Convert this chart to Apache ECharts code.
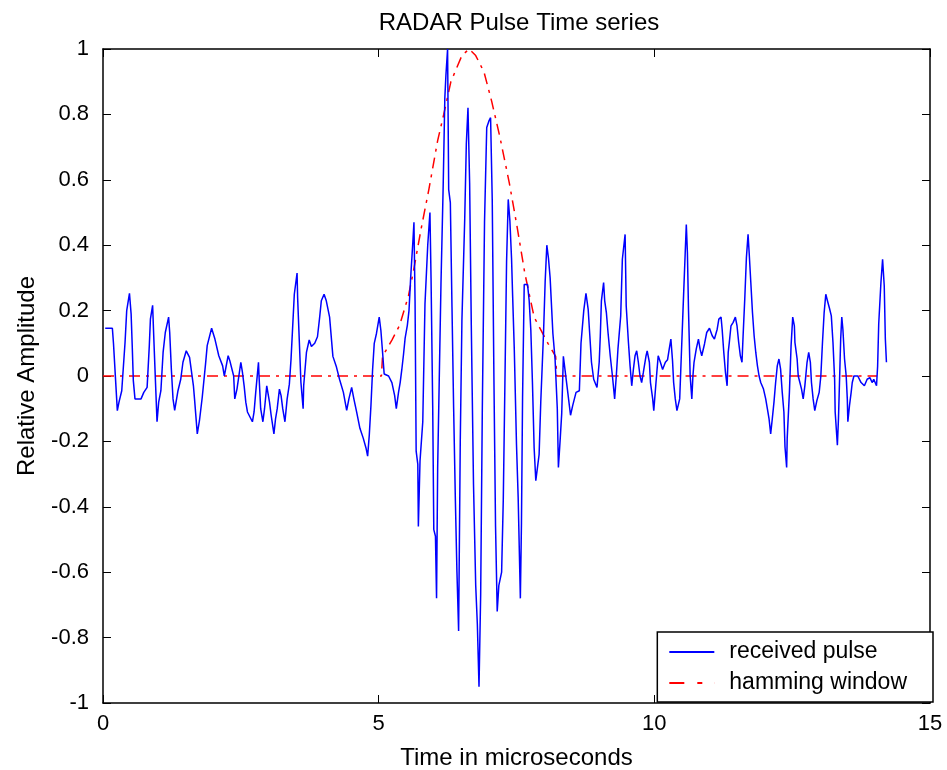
<!DOCTYPE html>
<html>
<head>
<meta charset="utf-8">
<script src="https://cdn.jsdelivr.net/npm/echarts@6/dist/echarts.min.js"></script>
<style>
html,body{margin:0;padding:0;background:#fff;}
#chart{width:947px;height:770px;}
</style>
</head>
<body>
<div id="chart"></div>
<script>
// ---- data ----
const titleText = 'RADAR Pulse Time series';
const xAxisName = 'Time in microseconds';
const yAxisName = 'Relative Amplitude';
const seriesNames = ['received pulse', 'hamming window'];

const pulseTime = [
0.04,0.17,0.19,0.26,0.29,0.34,0.40,0.43,0.48,0.51,0.53,0.55,0.58,0.69,0.74,0.80,0.84,0.86,0.90,0.92,
0.95,0.98,1.01,1.05,1.09,1.13,1.19,1.21,1.24,1.27,1.30,1.36,1.41,1.45,1.51,1.57,1.64,1.66,1.71,1.75,
1.80,1.86,1.89,1.97,2.03,2.10,2.17,2.20,2.27,2.30,2.37,2.39,2.43,2.50,2.53,2.56,2.59,2.62,2.68,2.71,
2.74,2.77,2.82,2.83,2.86,2.90,2.93,2.97,3.02,3.05,3.10,3.13,3.16,3.20,3.23,3.26,3.30,3.34,3.38,3.41,
3.44,3.47,3.52,3.53,3.56,3.59,3.63,3.64,3.69,3.74,3.78,3.84,3.89,3.93,3.96,4.01,4.05,4.11,4.17,4.23,
4.29,4.36,4.42,4.46,4.51,4.55,4.60,4.66,4.72,4.77,4.80,4.83,4.86,4.89,4.92,4.96,5.01,5.04,5.07,5.10,
5.18,5.24,5.29,5.32,5.36,5.39,5.42,5.45,5.48,5.52,5.55,5.58,5.62,5.64,5.66,5.68,5.71,5.72,5.75,5.80,
5.84,5.89,5.93,5.95,5.98,6.00,6.03,6.05,6.07,6.10,6.13,6.17,6.20,6.22,6.25,6.27,6.30,6.33,6.36,6.39,
6.42,6.45,6.48,6.51,6.56,6.59,6.62,6.65,6.68,6.72,6.76,6.79,6.82,6.85,6.88,6.92,6.96,7.00,7.03,7.06,
7.09,7.12,7.15,7.18,7.23,7.26,7.29,7.32,7.35,7.38,7.41,7.43,7.46,7.50,7.53,7.57,7.59,7.61,7.64,7.70,
7.73,7.76,7.79,7.82,7.85,7.88,7.91,7.94,7.99,8.02,8.05,8.08,8.11,8.16,8.20,8.24,8.26,8.29,8.32,8.35,
8.39,8.43,8.48,8.52,8.58,8.64,8.67,8.72,8.76,8.80,8.83,8.86,8.90,8.96,9.00,9.02,9.04,9.08,9.10,9.13,
9.16,9.20,9.24,9.28,9.31,9.34,9.39,9.42,9.47,9.49,9.53,9.56,9.59,9.62,9.65,9.68,9.71,9.74,9.77,9.80,
9.85,9.87,9.91,9.93,9.97,9.99,10.03,10.07,10.11,10.15,10.20,10.24,10.27,10.30,10.33,10.35,10.38,10.41,10.46,10.48,
10.52,10.56,10.58,10.60,10.62,10.65,10.68,10.70,10.72,10.76,10.80,10.83,10.86,10.91,10.95,11.00,11.05,11.09,11.14,11.17,
11.21,11.23,11.26,11.29,11.32,11.34,11.36,11.39,11.43,11.47,11.50,11.53,11.56,11.59,11.61,11.64,11.67,11.70,11.72,11.75,
11.78,11.81,11.84,11.87,11.90,11.93,11.98,12.02,12.05,12.08,12.11,12.14,12.17,12.20,12.23,12.26,12.29,12.32,12.35,12.37,
12.40,12.41,12.45,12.48,12.51,12.54,12.55,12.59,12.61,12.64,12.67,12.70,12.73,12.77,12.80,12.83,12.85,12.88,12.91,12.95,
12.99,13.02,13.05,13.08,13.11,13.14,13.18,13.21,13.24,13.27,13.28,13.32,13.34,13.36,13.38,13.40,13.42,13.45,13.48,13.50,
13.51,13.54,13.57,13.59,13.62,13.69,13.75,13.81,13.86,13.91,13.95,13.98,14.03,14.05,14.07,14.11,14.14,14.17,14.19,14.21
];

const pulseAmp = [
0.146,0.146,0.10,-0.106,-0.08,-0.045,0.103,0.20,0.253,0.19,0.093,-0.014,-0.07,-0.07,-0.05,-0.035,0.093,0.174,0.216,0.123,
-0.01,-0.14,-0.08,-0.045,0.072,0.133,0.18,0.133,0.02,-0.07,-0.105,-0.045,-0.01,0.042,0.077,0.057,-0.03,-0.07,-0.177,-0.136,
-0.065,0.037,0.093,0.146,0.113,0.062,0.031,0.0,0.062,0.047,0.0,-0.07,-0.04,0.042,0.01,-0.03,-0.08,-0.11,-0.13,-0.14,
-0.11,-0.05,0.042,0.0,-0.10,-0.14,-0.10,-0.03,-0.08,-0.12,-0.177,-0.13,-0.10,-0.04,-0.06,-0.10,-0.14,-0.07,-0.025,0.05,
0.15,0.25,0.315,0.24,0.11,-0.02,-0.10,-0.03,0.072,0.11,0.09,0.10,0.12,0.18,0.23,0.25,0.23,0.18,0.06,0.03,
-0.01,-0.05,-0.105,-0.07,-0.035,-0.07,-0.11,-0.16,-0.19,-0.22,-0.245,-0.18,-0.09,0.02,0.10,0.13,0.18,0.14,0.074,0.006,
0.0,-0.02,-0.06,-0.10,-0.05,-0.02,0.02,0.065,0.116,0.155,0.20,0.30,0.41,0.47,0.23,-0.23,-0.27,-0.46,-0.26,-0.14,
0.22,0.40,0.50,0.30,-0.09,-0.47,-0.49,-0.68,-0.28,0.0,0.28,0.58,0.85,0.92,1.0,0.57,0.53,0.21,-0.10,-0.37,
-0.60,-0.78,-0.20,0.17,0.475,0.71,0.82,0.59,0.155,-0.33,-0.64,-0.76,-0.95,-0.67,-0.10,0.47,0.76,0.78,0.79,0.54,
0.0,-0.46,-0.72,-0.64,-0.60,-0.38,-0.02,0.35,0.54,0.475,0.36,0.245,0.08,-0.21,-0.37,-0.68,-0.45,-0.065,0.28,0.28,
0.23,0.14,-0.025,-0.22,-0.32,-0.28,-0.24,-0.08,0.13,0.29,0.40,0.36,0.30,0.13,0.05,-0.10,-0.28,-0.20,-0.115,0.06,
0.005,-0.05,-0.12,-0.09,-0.05,-0.045,0.10,0.20,0.253,0.204,0.123,0.042,-0.01,-0.035,0.042,0.123,0.23,0.286,0.23,0.194,
0.133,0.062,0.0,-0.07,0.0,0.082,0.184,0.357,0.433,0.214,0.103,0.031,-0.03,0.02,0.062,0.077,0.042,0.0,-0.02,0.01,
0.062,0.077,0.042,-0.02,-0.07,-0.106,-0.02,0.062,0.042,0.02,0.042,0.05,0.082,0.113,0.047,-0.02,-0.07,-0.106,-0.07,0.02,
0.20,0.377,0.463,0.377,0.20,0.0,-0.07,0.0,0.042,0.082,0.113,0.082,0.062,0.098,0.133,0.146,0.123,0.113,0.143,0.174,
0.18,0.143,0.072,0.011,-0.03,0.072,0.103,0.153,0.164,0.18,0.153,0.103,0.062,0.042,0.123,0.235,0.362,0.433,0.377,0.286,
0.194,0.123,0.072,0.031,0.0,-0.02,-0.04,-0.07,-0.10,-0.13,-0.177,-0.13,-0.08,-0.02,0.031,0.052,0.021,-0.05,-0.11,-0.217,
-0.28,-0.19,-0.05,0.092,0.18,0.153,0.103,0.052,0.0,-0.02,-0.04,-0.07,-0.03,0.042,0.072,0.042,-0.02,-0.07,-0.106,-0.074,
-0.05,0.0,0.103,0.194,0.25,0.23,0.205,0.184,0.103,-0.01,-0.11,-0.212,-0.13,-0.01,0.113,0.18,0.143,0.052,0.0,-0.07,
-0.14,-0.09,-0.05,-0.02,0.0,0.0,-0.02,-0.03,-0.01,-0.005,-0.02,-0.01,-0.03,0.03,0.16,0.286,0.357,0.276,0.113,0.042
];

const windowTime = [0, 5.05, 5.07, 5.24, 5.38, 5.54, 5.63, 5.77, 5.91, 6.07, 6.18, 6.31, 6.51, 6.64, 6.76, 6.91, 7.05, 7.20, 7.37, 7.51, 7.65, 7.82, 8.07, 8.21, 8.23, 14.04];
const windowAmp  = [0, 0,    0.06, 0.11, 0.155, 0.245, 0.32, 0.45, 0.57, 0.72, 0.80, 0.90, 0.98, 1.0, 0.98, 0.93, 0.84, 0.73, 0.59, 0.457, 0.315, 0.18, 0.10, 0.06, 0, 0];

const xTicks = {min: 0, max: 15, step: 5};
const yTicks = {min: -1, max: 1, step: 0.2};

// ---- chart ----
const FONT = 'Liberation Sans, Arial, Helvetica, sans-serif';
const chart = echarts.init(document.getElementById('chart'), null, {renderer: 'canvas'});
const pulseData = pulseTime.map((t, i) => [t, pulseAmp[i]]);
const windowData = windowTime.map((t, i) => [t, windowAmp[i]]);

// legend line samples (solid, and dash-dot like the reference)
const legendIcons = [
  'path://M0,0h45v2h-45z',
  'path://M0,0h15v2h-15z M28,0h5v2h-5z M44.9,0h0.1v2h-0.1z'
];

const axisCommon = {
  axisLine: {show: true, onZero: false, lineStyle: {color: '#000', width: 1.5}},
  axisTick: {show: true, inside: true, length: 8, lineStyle: {color: '#000', width: 1}},
  splitLine: {show: false}
};

chart.setOption({
  animation: false,
  backgroundColor: '#fff',
  title: {
    text: titleText,
    left: 514,
    textAlign: 'center',
    top: 6,
    textStyle: {fontFamily: FONT, fontSize: 24, fontWeight: 'normal', color: '#000'}
  },
  grid: {left: 103, right: 17, top: 49, bottom: 67, show: false, containLabel: false, outerBoundsMode: 'none'},
  legend: {
    orient: 'vertical',
    right: 14,
    bottom: 68,
    backgroundColor: '#fff',
    borderColor: '#000',
    borderWidth: 1.5,
    padding: [8, 26, 7, 12],
    itemGap: 7,
    itemWidth: 45,
    itemHeight: 2,
    symbolKeepAspect: false,
    textStyle: {fontFamily: FONT, fontSize: 23, lineHeight: 24, color: '#000', padding: [0, 0, 0, 10]},
    data: seriesNames.map((n, i) => ({name: n, icon: legendIcons[i]}))
  },
  xAxis: [
    Object.assign({}, axisCommon, {
      type: 'value', position: 'bottom', min: xTicks.min, max: xTicks.max, interval: xTicks.step,
      name: xAxisName, nameLocation: 'middle', nameGap: 43,
      nameTextStyle: {fontFamily: FONT, fontSize: 24, color: '#000'},
      axisLabel: {show: true, margin: 10, fontFamily: FONT, fontSize: 22, color: '#000'}
    }),
    Object.assign({}, axisCommon, {
      type: 'value', position: 'top', min: xTicks.min, max: xTicks.max, interval: xTicks.step,
      axisLabel: {show: false}
    })
  ],
  yAxis: [
    Object.assign({}, axisCommon, {
      type: 'value', position: 'left', min: yTicks.min, max: yTicks.max, interval: yTicks.step,
      name: yAxisName, nameLocation: 'middle', nameGap: 64,
      nameTextStyle: {fontFamily: FONT, fontSize: 24, color: '#000'},
      axisLabel: {show: true, margin: 14, fontFamily: FONT, fontSize: 22, color: '#000'}
    }),
    Object.assign({}, axisCommon, {
      type: 'value', position: 'right', min: yTicks.min, max: yTicks.max, interval: yTicks.step,
      axisLabel: {show: false}
    })
  ],
  series: [
    {
      name: seriesNames[0], type: 'line', data: pulseData, showSymbol: false, symbol: 'none',
      lineStyle: {color: '#0000ff', width: 1.5}, itemStyle: {color: '#0000ff'}, z: 3
    },
    {
      name: seriesNames[1], type: 'line', data: windowData, showSymbol: false, symbol: 'none',
      lineStyle: {color: '#ff0000', width: 1.5, type: [11, 6, 3, 6]}, itemStyle: {color: '#ff0000'}, z: 2
    }
  ]
});
</script>
</body>
</html>
